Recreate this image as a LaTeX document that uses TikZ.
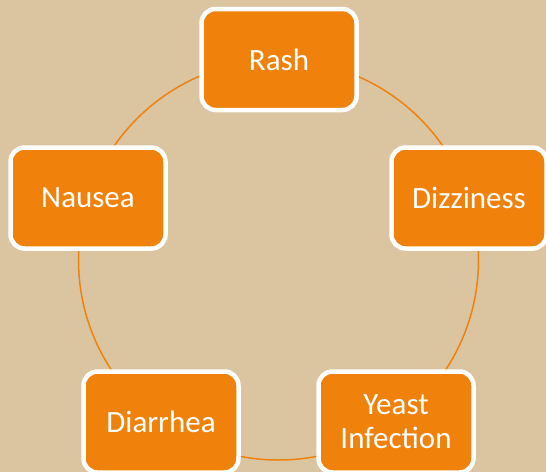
\documentclass[tikz,border=0pt]{standalone}
\usepackage{fontspec}
\setmainfont{Carlito}
\definecolor{bgtan}{HTML}{DBC4A0}
\definecolor{boxorange}{HTML}{F0820C}
\begin{document}
\begin{tikzpicture}[x=1pt,y=-1pt,
  symbox/.style={draw=white,line width=4.5pt,fill=boxorange,rounded corners=14pt,
    minimum width=155pt,minimum height=101pt,text=white,align=center,
    font=\fontsize{31}{34}\selectfont,inner sep=0pt},
  ring/.style={draw=boxorange,line width=1.5pt}]
\fill[bgtan] (0,0) rectangle (546,472);
\useasboundingbox (0,0) rectangle (546,472);
\coordinate (c) at (278.5,260);
\draw[ring] (c) circle[radius=200pt];
\node[symbox] (rash) at (279,59.5) {Rash};
\node[symbox] (dizz) at (469,198) {Dizziness};
\node[symbox] (yeast) at (396,422) {Yeast\\Infection};
\node[symbox] (diar) at (161,422) {Diarrhea};
\node[symbox] (naus) at (88,198) {Nausea};
\end{tikzpicture}
\end{document}
